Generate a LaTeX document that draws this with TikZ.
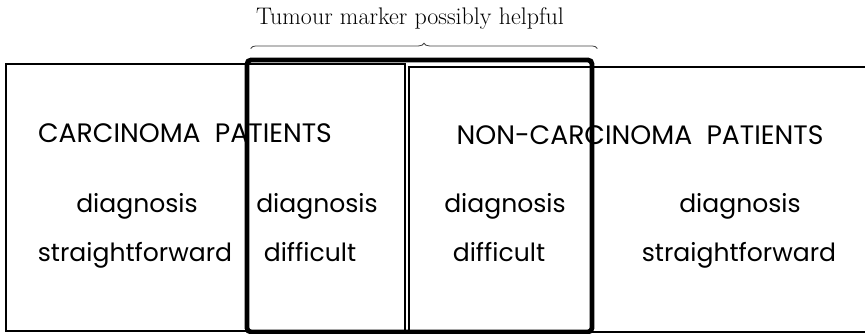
\documentclass[tikz,border=0pt]{standalone}
\usepackage{fontspec}
\newfontfamily\boxfont{Poppins}
\usetikzlibrary{decorations.pathreplacing,positioning}

\begin{document}
\begin{tikzpicture}[
  x=0.75pt,y=0.75pt,
  thinbox/.style={rectangle,draw,line width=1.9pt,inner sep=0pt},
  markbox/.style={rectangle,draw,line width=3.6pt,rounded corners=3pt,inner sep=0pt},
  head/.style={font=\boxfont\fontsize{20}{24}\selectfont,anchor=base,inner sep=0pt},
  txt/.style={font=\boxfont\fontsize{18.8}{22}\selectfont,anchor=base,inner sep=0pt},
  brace/.style={decorate,decoration={brace,amplitude=4pt},line width=0.6pt,black!75}
]
\useasboundingbox (0,0) rectangle (865,334);
% text first, the frames go over it
\node[head] (carchead) at (185,191) {CARCINOMA\ \ PATIENTS};
\node[head] (nonhead) at (640,189) {NON-CARCINOMA\ \ PATIENTS};
\node[txt] (diag1) at (137,121) {diagnosis};
\node[txt] (easy1) at (135,72) {straightforward};
\node[txt] (diag2) at (317,121) {diagnosis};
\node[txt] (hard2) at (310,72) {difficult};
\node[txt] (diag3) at (505,121) {diagnosis};
\node[txt] (hard3) at (499,72) {difficult};
\node[txt] (diag4) at (740,121) {diagnosis};
\node[txt] (easy4) at (739,72) {straightforward};
% frames
\node[thinbox,minimum width=299.25pt,minimum height=200.25pt] (carc) at (205.5,136.5) {};
\node[thinbox,minimum width=345.75pt,minimum height=198.75pt] (noncarc) at (639.5,134.5) {};
\node[markbox,minimum width=258.75pt,minimum height=204pt] (marker) at (419.5,138) {};
% brace and its label
\draw[brace] ([shift={(6,9)}]marker.north west) -- ([shift={(3,9)}]marker.north east);
\node[font=\fontsize{18}{21}\selectfont,anchor=base,inner sep=0pt] (marklabel) at (410,309) {Tumour marker possibly helpful};
\end{tikzpicture}
\end{document}
